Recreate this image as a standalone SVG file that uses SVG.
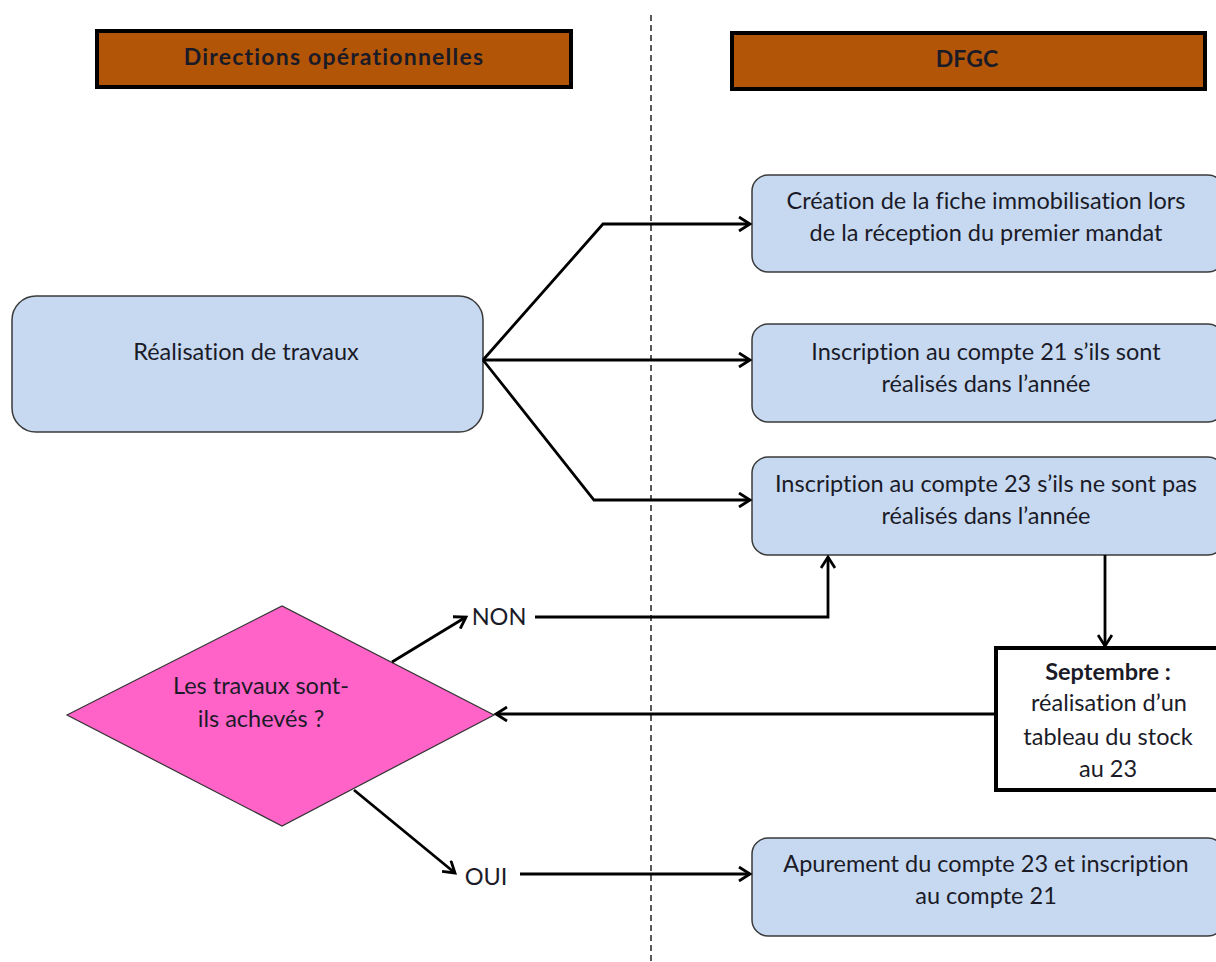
<svg xmlns="http://www.w3.org/2000/svg" width="1216" height="962" viewBox="0 0 1216 962">
<style>
.t{font-family:Lato,"Liberation Sans",sans-serif;font-size:23.5px;fill:#1b1b28;text-anchor:middle;font-variant-ligatures:none}
.b{font-weight:bold}
.h{font-size:23px}
.hdr{fill:#B35506;stroke:#000;stroke-width:4}
.box{fill:#C6D9F1;stroke:#3a3a3a;stroke-width:1.5}
.c{fill:none;stroke:#000;stroke-width:2.8}
</style>
<defs>
<marker id="ah" markerWidth="16" markerHeight="16" refX="13" refY="8" orient="auto" markerUnits="userSpaceOnUse">
<path d="M2,1 L13,8 L2,15" fill="none" stroke="#000" stroke-width="2.8"/>
</marker>
</defs>
<rect width="1216" height="962" fill="#fff"/>
<line x1="651" y1="15" x2="651" y2="962" stroke="#000" stroke-width="1.3" stroke-dasharray="6,4"/>

<g id="hdr-left"><rect class="hdr" x="97" y="31" width="474" height="56"/><text class="t b h" x="334" y="65" letter-spacing="1.2">Directions opérationnelles</text></g>
<g id="hdr-right"><rect class="hdr" x="732" y="33" width="473" height="56"/><text class="t b h" x="967" y="67">DFGC</text></g>

<g id="travaux"><rect class="box" x="12" y="296" width="471" height="136" rx="24"/><text class="t" x="246" y="360">Réalisation de travaux</text></g>
<g id="creation"><rect class="box" x="752" y="175" width="472" height="97" rx="16"/><text class="t" x="986" y="209">Création de la fiche immobilisation lors</text><text class="t" x="986" y="241">de la réception du premier mandat</text></g>
<g id="compte21"><rect class="box" x="752" y="324" width="472" height="98" rx="16"/><text class="t" x="986" y="360">Inscription au compte 21 s’ils sont</text><text class="t" x="986" y="392">réalisés dans l’année</text></g>
<g id="compte23"><rect class="box" x="752" y="457" width="472" height="98" rx="16"/><text class="t" x="986" y="492">Inscription au compte 23 s’ils ne sont pas</text><text class="t" x="986" y="524">réalisés dans l’année</text></g>
<g id="septembre"><rect x="996" y="648" width="240" height="142" fill="#fff" stroke="#000" stroke-width="4"/><text class="t b" x="1108" y="680">Septembre :</text><text class="t" x="1109" y="711">réalisation d’un</text><text class="t" x="1108" y="745">tableau du stock</text><text class="t" x="1108" y="777">au 23</text></g>
<g id="apurement"><rect class="box" x="752" y="838" width="472" height="98" rx="16"/><text class="t" x="986" y="872">Apurement du compte 23 et inscription</text><text class="t" x="986" y="904">au compte 21</text></g>
<g id="decision"><polygon points="67,715 282,606 494,715 282,826" fill="#FF63C8" stroke="#333" stroke-width="1.2"/><text class="t" x="261" y="694">Les travaux sont-</text><text class="t" x="261" y="727">ils achevés ?</text></g>
<g id="labels"><text class="t" x="499" y="625">NON</text><text class="t" x="486" y="885">OUI</text></g>

<g id="connectors">
<polyline class="c" points="483,360 603,224 750,224" marker-end="url(#ah)"/>
<polyline class="c" points="483,360 750,360" marker-end="url(#ah)"/>
<polyline class="c" points="483,360 594,500 750,500" marker-end="url(#ah)"/>
<line class="c" x1="392" y1="662" x2="466" y2="617" marker-end="url(#ah)"/>
<polyline class="c" points="535,617 828,617 828,557" marker-end="url(#ah)"/>
<line class="c" x1="1105" y1="555" x2="1105" y2="646" marker-end="url(#ah)"/>
<line class="c" x1="996" y1="714" x2="496" y2="714" marker-end="url(#ah)"/>
<line class="c" x1="354" y1="790" x2="455" y2="873" marker-end="url(#ah)"/>
<line class="c" x1="520" y1="874" x2="750" y2="874" marker-end="url(#ah)"/>
</g>
</svg>
